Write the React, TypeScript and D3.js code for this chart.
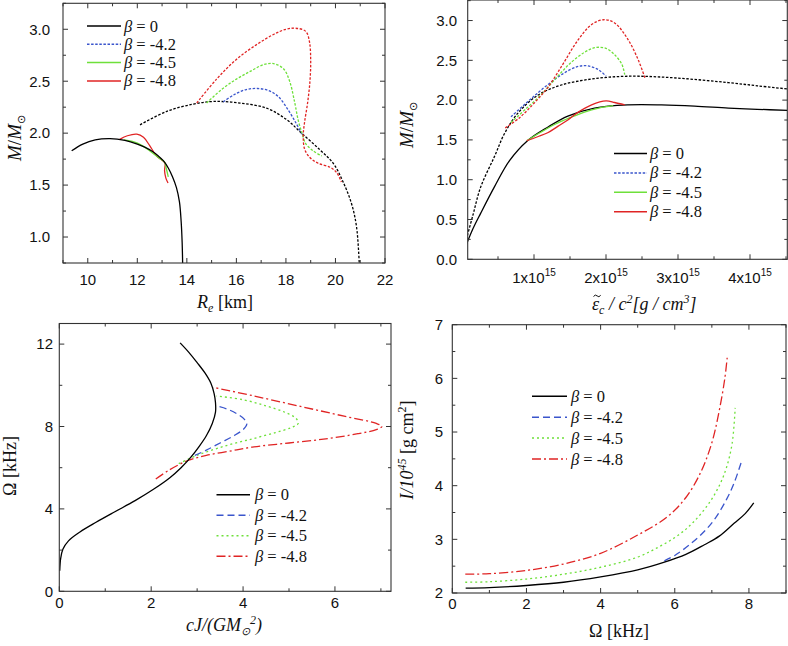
import React from 'react';
import * as d3 from 'd3';

// ---------- legend labels ----------
const betaLabels = ['0', '-4.2', '-4.5', '-4.8'];

// ---------- Panel A: M vs R_e ----------
const aSolid0: [number, number][] = [[9.35,1.83],[9.8,1.895],[10.3,1.935],[10.9,1.947],[11.5,1.93],[12.0,1.895],[12.3,1.865],[12.6,1.825],[12.85,1.78],[13.05,1.735],[13.25,1.665],[13.42,1.58],[13.58,1.475],[13.7,1.34],[13.77,1.15],[13.81,0.95],[13.83,0.75]];
const aSolid45: [number, number][] = [[11.45,1.935],[11.8,1.92],[12.2,1.88],[12.55,1.82],[12.85,1.765],[13.1,1.72],[13.18,1.65],[13.25,1.58]];
const aSolid48: [number, number][] = [[11.29,1.94],[11.6,1.975],[11.98,1.99],[12.25,1.96],[12.5,1.88],[12.78,1.78],[13.0,1.74],[13.12,1.71],[13.1,1.64],[13.15,1.57],[13.24,1.52]];
const aDot0: [number, number][] = [[12.11,2.08],[13.19,2.21],[14.27,2.28],[15.07,2.305],[16.15,2.29],[17.22,2.24],[18.03,2.13],[18.63,2.0],[19.37,1.84],[19.91,1.71],[20.31,1.53],[20.65,1.32],[20.85,1.10],[20.96,0.75]];
const aDot42: [number, number][] = [[15.47,2.30],[15.9,2.37],[16.4,2.42],[16.85,2.43],[17.3,2.41],[17.7,2.35],[18.1,2.22],[18.4,2.1],[18.65,1.99]];
const aDot45: [number, number][] = [[14.8,2.29],[15.4,2.42],[16.0,2.52],[16.6,2.6],[17.1,2.66],[17.5,2.67],[17.9,2.62],[18.15,2.5],[18.35,2.3],[18.5,2.12],[18.65,2.0],[18.8,1.9],[19.1,1.83],[19.45,1.78]];
const aDot48: [number, number][] = [[14.4,2.29],[15.2,2.52],[16.0,2.71],[16.8,2.85],[17.5,2.95],[18.0,3.0],[18.4,3.01],[18.8,2.98],[18.95,2.88],[19.0,2.7],[18.97,2.5],[18.88,2.3],[18.75,2.1],[18.7,1.98],[18.75,1.85],[18.95,1.77],[19.3,1.71],[19.8,1.67],[20.05,1.62],[20.24,1.53]];

// ---------- Panel B: M vs central energy density (units of 1e15) ----------
const bSolid0: [number, number][] = [[0.05,0.16],[0.15,0.38],[0.26,0.58],[0.45,0.91],[0.66,1.24],[0.91,1.49],[1.19,1.66],[1.47,1.8],[1.84,1.9],[2.3,1.94],[2.77,1.94],[3.23,1.925],[3.7,1.9],[4.1,1.885],[4.52,1.87]];
const bSolid45: [number, number][] = [[0.9,1.49],[1.1,1.6],[1.3,1.7],[1.5,1.78],[1.7,1.85],[1.9,1.9],[2.1,1.93]];
const bSolid48: [number, number][] = [[0.9,1.49],[1.05,1.54],[1.19,1.59],[1.33,1.67],[1.47,1.75],[1.6,1.84],[1.8,1.94],[2.0,1.99],[2.12,1.97],[2.26,1.94]];
const bDot0: [number, number][] = [[0.06,0.25],[0.15,0.55],[0.26,0.91],[0.45,1.29],[0.59,1.58],[0.77,1.83],[1.05,2.06],[1.38,2.19],[1.84,2.27],[2.3,2.3],[2.77,2.29],[3.23,2.26],[3.7,2.22],[4.1,2.18],[4.52,2.14]];
const bDot42: [number, number][] = [[0.68,1.79],[0.85,1.93],[1.0,2.05],[1.2,2.2],[1.4,2.33],[1.6,2.42],[1.75,2.43],[1.9,2.38],[2.0,2.3]];
const bDot45: [number, number][] = [[0.68,1.72],[0.9,1.9],[1.1,2.07],[1.3,2.27],[1.5,2.46],[1.7,2.6],[1.85,2.66],[2.0,2.65],[2.12,2.57],[2.22,2.45],[2.26,2.32]];
const bDot48: [number, number][] = [[0.6,1.65],[0.8,1.78],[1.0,1.96],[1.2,2.17],[1.4,2.45],[1.6,2.74],[1.8,2.95],[1.97,3.01],[2.12,2.97],[2.3,2.77],[2.45,2.5],[2.54,2.28]];

// ---------- Panel C: Omega vs cJ/(GM^2) ----------
const cLine0: [number, number][] = [[0.01,1.0],[0.03,1.6],[0.08,2.05],[0.2,2.45],[0.45,2.88],[0.8,3.35],[1.2,3.85],[1.65,4.4],[2.05,4.95],[2.4,5.5],[2.65,6.0],[2.86,6.5],[3.05,7.05],[3.2,7.55],[3.33,8.15],[3.4,8.7],[3.4,9.15],[3.37,9.6],[3.3,10.1],[3.17,10.6],[3.0,11.1],[2.82,11.6],[2.63,12.06]];
const cLine42: [number, number][] = [[2.95,6.6],[3.2,6.85],[3.5,7.2],[3.8,7.55],[4.0,7.85],[4.08,8.1],[4.03,8.35],[3.88,8.6],[3.65,8.85],[3.42,9.0]];
const cLine45: [number, number][] = [[2.6,6.2],[3.0,6.6],[3.6,7.05],[4.2,7.4],[4.7,7.7],[5.05,7.95],[5.2,8.15],[5.15,8.4],[4.9,8.7],[4.5,9.0],[4.0,9.3],[3.42,9.48]];
const cLine48: [number, number][] = [[2.1,5.45],[2.4,5.9],[2.8,6.35],[3.2,6.6],[3.7,6.8],[4.2,7.0],[5.0,7.2],[5.8,7.4],[6.5,7.65],[6.9,7.85],[7.02,8.0],[6.9,8.15],[6.2,8.5],[5.2,9.0],[4.2,9.5],[3.35,9.9]];

// ---------- Panel D: I vs Omega ----------
const dLine0: [number, number][] = [[0.36,2.09],[1,2.1],[2,2.14],[3,2.2],[4,2.3],[5,2.43],[5.7,2.57],[6.3,2.72],[6.8,2.9],[7.2,3.06],[7.6,3.3],[7.9,3.48],[8.13,3.68]];
const dLine42: [number, number][] = [[5.72,2.6],[6.0,2.7],[6.4,2.9],[6.8,3.15],[7.1,3.4],[7.4,3.75],[7.6,4.05],[7.8,4.45]];
const dLine45: [number, number][] = [[0.35,2.2],[1,2.21],[2,2.26],[3,2.35],[4,2.48],[5,2.67],[5.6,2.87],[6.1,3.08],[6.5,3.32],[6.9,3.65],[7.2,4.0],[7.4,4.35],[7.55,4.8],[7.63,5.45]];
const dLine48: [number, number][] = [[0.35,2.35],[1,2.36],[2,2.42],[3,2.54],[4,2.74],[5,3.08],[5.8,3.42],[6.3,3.78],[6.7,4.25],[7.0,4.8],[7.2,5.4],[7.35,6.0],[7.42,6.43]];

// ---------- tick values ----------
const aXMajor = [10, 12, 14, 16, 18, 20, 22];
const aXMinor = [9, 11, 13, 15, 17, 19, 21];
const aYMajor = [1.0, 1.5, 2.0, 2.5, 3.0];
const aYMinor = [0.75, 1.25, 1.75, 2.25, 2.75, 3.25];
const bXMajor = [1, 2, 3, 4];
const bXMinor = [0.5, 1.5, 2.5, 3.5, 4.5];
const bYMajor = [0, 0.5, 1.0, 1.5, 2.0, 2.5, 3.0];
const bYMinor = [0.25, 0.75, 1.25, 1.75, 2.25, 2.75, 3.25];
const cXMajor = [0, 2, 4, 6];
const cXMinor = [1, 3, 5, 7];
const cYMajor = [0, 4, 8, 12];
const cYMinor = [2, 6, 10];
const dXMajor = [0, 2, 4, 6, 8];
const dXMinor = [1, 3, 5, 7, 9];
const dYMajor = [2, 3, 4, 5, 6, 7];
const dYMinor = [2.5, 3.5, 4.5, 5.5, 6.5];

const BLACK = '#000000';
const BLUE = '#3a55cc';
const GREEN = '#6ee03a';
const RED = '#e02424';
const SANS = '"Liberation Sans", Arial, sans-serif';
const SERIF = '"Liberation Serif", "Times New Roman", serif';

type Pt = [number, number];
type Series = { data: Pt[]; color: string; dash?: string; width?: number };
type Legend = { x1: number; x2: number; tx: number; y0: number; dy: number; styles: { color: string; dash?: string }[] };

type PanelProps = {
  id: string;
  px: [number, number];
  py: [number, number];
  xd: [number, number];
  yd: [number, number];
  xMajor: number[];
  xMinor: number[];
  yMajor: number[];
  yMinor: number[];
  xFmt: (v: number) => React.ReactNode;
  yFmt: (v: number) => string;
  xLabelBase: number;
  yLabelRight: number;
  series: Series[];
  legend: Legend;
};

function Panel(p: PanelProps) {
  const x = d3.scaleLinear().domain(p.xd).range(p.px);
  const y = d3.scaleLinear().domain(p.yd).range(p.py);
  const line = d3
    .line<Pt>()
    .x((d) => x(d[0]))
    .y((d) => y(d[1]))
    .curve(d3.curveCatmullRom.alpha(0.5));
  const [x0, x1] = p.px;
  const [yb, yt] = p.py;
  const MAJ = 5;
  const MIN = 3;
  const stroke = '#333';
  return (
    <g>
      <defs>
        <clipPath id={p.id}>
          <rect x={x0} y={yt} width={x1 - x0} height={yb - yt} />
        </clipPath>
      </defs>
      <g clipPath={`url(#${p.id})`}>
        {p.series.map((s, i) => (
          <path
            key={i}
            d={line(s.data) || ''}
            fill="none"
            stroke={s.color}
            strokeWidth={s.width ?? 1.3}
            strokeDasharray={s.dash}
          />
        ))}
      </g>
      <rect x={x0} y={yt} width={x1 - x0} height={yb - yt} fill="none" stroke={stroke} strokeWidth={1.1} />
      {p.xMajor.map((v) => (
        <g key={'xM' + v}>
          <line x1={x(v)} x2={x(v)} y1={yb} y2={yb - MAJ} stroke={stroke} />
          <line x1={x(v)} x2={x(v)} y1={yt} y2={yt + MAJ} stroke={stroke} />
        </g>
      ))}
      {p.xMinor.map((v) => (
        <g key={'xm' + v}>
          <line x1={x(v)} x2={x(v)} y1={yb} y2={yb - MIN} stroke={stroke} />
          <line x1={x(v)} x2={x(v)} y1={yt} y2={yt + MIN} stroke={stroke} />
        </g>
      ))}
      {p.yMajor.map((v) => (
        <g key={'yM' + v}>
          <line x1={x0} x2={x0 + MAJ} y1={y(v)} y2={y(v)} stroke={stroke} />
          <line x1={x1} x2={x1 - MAJ} y1={y(v)} y2={y(v)} stroke={stroke} />
        </g>
      ))}
      {p.yMinor.map((v) => (
        <g key={'ym' + v}>
          <line x1={x0} x2={x0 + MIN} y1={y(v)} y2={y(v)} stroke={stroke} />
          <line x1={x1} x2={x1 - MIN} y1={y(v)} y2={y(v)} stroke={stroke} />
        </g>
      ))}
      {p.xMajor.map((v) => (
        <text key={'xl' + v} x={x(v)} y={p.xLabelBase} textAnchor="middle" fontFamily={SANS} fontSize={15} fill="#111">
          {p.xFmt(v)}
        </text>
      ))}
      {p.yMajor.map((v) => (
        <text key={'yl' + v} x={p.yLabelRight} y={y(v) + 5.3} textAnchor="end" fontFamily={SANS} fontSize={15} fill="#111">
          {p.yFmt(v)}
        </text>
      ))}
      {betaLabels.map((b, i) => {
        const ly = p.legend.y0 + i * p.legend.dy;
        const st = p.legend.styles[i];
        return (
          <g key={'lg' + i}>
            <line x1={p.legend.x1} x2={p.legend.x2} y1={ly} y2={ly} stroke={st.color} strokeWidth={1.5} strokeDasharray={st.dash} />
            <text x={p.legend.tx} y={ly + 5.5} fontFamily={SERIF} fontSize={16.5} fill="#111">
              <tspan fontStyle="italic">β</tspan>
              <tspan> = {b}</tspan>
            </text>
          </g>
        );
      })}
    </g>
  );
}

const DOT = '2.5,1.6';
const DASH = '7,4';
const DOTS = '2,3';
const DASHDOT = '9,3,2,3';

export default function App() {
  const oneDec = (v: number) => v.toFixed(1);
  const intFmt = (v: number) => String(v);
  return (
    <svg width={788} height={646} style={{ position: 'absolute', left: 0, top: 0, background: '#fff' }}>
      <rect x={0} y={0} width={788} height={646} fill="#fff" />
      {/* Panel A */}
      <Panel
        id="clipA"
        px={[63, 385]}
        py={[263, 3.3]}
        xd={[9, 22]}
        yd={[0.75, 3.25]}
        xMajor={aXMajor}
        xMinor={aXMinor}
        yMajor={aYMajor}
        yMinor={aYMinor}
        xFmt={intFmt}
        yFmt={oneDec}
        xLabelBase={285}
        yLabelRight={50}
        series={[
          { data: aDot0, color: BLACK, dash: DOT },
          { data: aDot42, color: BLUE, dash: DOT },
          { data: aDot45, color: GREEN, dash: DOT },
          { data: aDot48, color: RED, dash: DOT },
          { data: aSolid48, color: RED },
          { data: aSolid45, color: GREEN },
          { data: aSolid0, color: BLACK },
        ]}
        legend={{ x1: 87, x2: 121, tx: 124, y0: 26, dy: 18.3, styles: [{ color: BLACK }, { color: BLUE, dash: DOT }, { color: GREEN }, { color: RED }] }}
      />
      <text x={225} y={308} textAnchor="middle" fontFamily={SERIF} fontSize={18} fill="#111">
        <tspan fontStyle="italic">R</tspan>
        <tspan fontStyle="italic" fontSize={12} dy={4}>e</tspan>
        <tspan dy={-4}> [km]</tspan>
      </text>
      <text transform="translate(21,138) rotate(-90)" textAnchor="middle" fontFamily={SERIF} fontSize={19} fill="#111">
        <tspan fontStyle="italic">M</tspan>
        <tspan>/</tspan>
        <tspan fontStyle="italic">M</tspan>
        <tspan fontSize={11} dy={4}>⊙</tspan>
      </text>

      {/* Panel B */}
      <Panel
        id="clipB"
        px={[467.7, 787.3]}
        py={[259.3, 0]}
        xd={[0.079, 4.518]}
        yd={[0, 3.258]}
        xMajor={bXMajor}
        xMinor={bXMinor}
        yMajor={bYMajor}
        yMinor={bYMinor}
        xFmt={(v) => (
          <>
            <tspan>{v}x10</tspan>
            <tspan fontSize={10} dy={-7}>15</tspan>
          </>
        )}
        yFmt={oneDec}
        xLabelBase={283}
        yLabelRight={457}
        series={[
          { data: bDot0, color: BLACK, dash: DOT },
          { data: bDot42, color: BLUE, dash: DOT },
          { data: bDot45, color: GREEN, dash: DOT },
          { data: bDot48, color: RED, dash: DOT },
          { data: bSolid0, color: BLACK },
          { data: bSolid45, color: GREEN },
          { data: bSolid48, color: RED },
        ]}
        legend={{ x1: 614, x2: 647, tx: 650, y0: 153.5, dy: 19.4, styles: [{ color: BLACK }, { color: BLUE, dash: DOT }, { color: GREEN }, { color: RED }] }}
      />
      <text x={592} y={310} textAnchor="start" fontFamily={SERIF} fontSize={18} fill="#111" fontStyle="italic">
        <tspan>ε</tspan>
        <tspan fontSize={12} dy={4}>c</tspan>
        <tspan dy={-4}> / c</tspan>
        <tspan fontSize={12} dy={-7}>2</tspan>
        <tspan dy={7}>[g / cm</tspan>
        <tspan fontSize={12} dy={-7}>3</tspan>
        <tspan dy={7}>]</tspan>
      </text>
      <path d="M593.5,296.5 q1.8,-2.6 3.6,-0.6 t3.6,-0.6" fill="none" stroke="#111" strokeWidth={1} />
      <text transform="translate(413,125) rotate(-90)" textAnchor="middle" fontFamily={SERIF} fontSize={19} fill="#111">
        <tspan fontStyle="italic">M</tspan>
        <tspan>/</tspan>
        <tspan fontStyle="italic">M</tspan>
        <tspan fontSize={11} dy={4}>⊙</tspan>
      </text>

      {/* Panel C */}
      <Panel
        id="clipC"
        px={[59.3, 391]}
        py={[591.3, 323.5]}
        xd={[0, 7.22]}
        yd={[0, 13]}
        xMajor={cXMajor}
        xMinor={cXMinor}
        yMajor={cYMajor}
        yMinor={cYMinor}
        xFmt={intFmt}
        yFmt={intFmt}
        xLabelBase={608}
        yLabelRight={53}
        series={[
          { data: cLine48, color: RED, dash: DASHDOT },
          { data: cLine45, color: GREEN, dash: DOTS },
          { data: cLine42, color: BLUE, dash: DASH },
          { data: cLine0, color: BLACK },
        ]}
        legend={{ x1: 216.5, x2: 250, tx: 255, y0: 494.7, dy: 20.5, styles: [{ color: BLACK }, { color: BLUE, dash: DASH }, { color: GREEN, dash: DOTS }, { color: RED, dash: DASHDOT }] }}
      />
      <text x={224} y={631} textAnchor="middle" fontFamily={SERIF} fontSize={18} fill="#111" fontStyle="italic">
        <tspan>cJ/(GM</tspan>
        <tspan fontSize={11} dy={4}>⊙</tspan>
        <tspan fontSize={12} dy={-11}>2</tspan>
        <tspan dy={7}>)</tspan>
      </text>
      <text transform="translate(16,466) rotate(-90)" textAnchor="middle" fontFamily={SERIF} fontSize={18} fill="#111">
        Ω [kHz]
      </text>

      {/* Panel D */}
      <Panel
        id="clipD"
        px={[452.3, 786]}
        py={[593, 324.7]}
        xd={[0, 9]}
        yd={[2, 7]}
        xMajor={dXMajor}
        xMinor={dXMinor}
        yMajor={dYMajor}
        yMinor={dYMinor}
        xFmt={intFmt}
        yFmt={intFmt}
        xLabelBase={609}
        yLabelRight={443}
        series={[
          { data: dLine48, color: RED, dash: DASHDOT },
          { data: dLine45, color: GREEN, dash: DOTS },
          { data: dLine42, color: BLUE, dash: DASH },
          { data: dLine0, color: BLACK },
        ]}
        legend={{ x1: 532, x2: 567, tx: 571, y0: 396.3, dy: 20.9, styles: [{ color: BLACK }, { color: BLUE, dash: DASH }, { color: GREEN, dash: DOTS }, { color: RED, dash: DASHDOT }] }}
      />
      <text x={619} y={637} textAnchor="middle" fontFamily={SERIF} fontSize={18} fill="#111">
        Ω [kHz]
      </text>
      <text transform="translate(413,450) rotate(-90)" textAnchor="middle" fontFamily={SERIF} fontSize={18} fill="#111">
        <tspan fontStyle="italic">I/10</tspan>
        <tspan fontStyle="italic" fontSize={12} dy={-7}>45</tspan>
        <tspan dy={7}> [g cm</tspan>
        <tspan fontSize={12} dy={-7}>2</tspan>
        <tspan dy={7}>]</tspan>
      </text>
    </svg>
  );
}
